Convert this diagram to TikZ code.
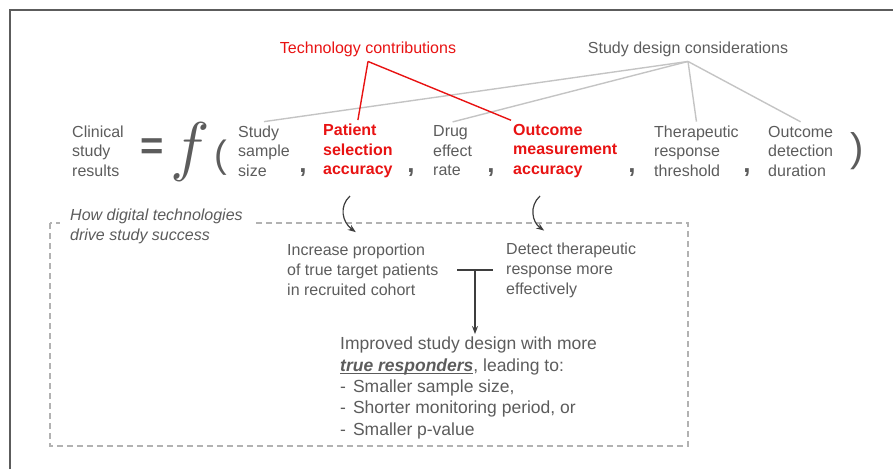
\documentclass[tikz,border=0pt]{standalone}
\usepackage{fontspec}
\setmainfont{Liberation Sans}
\usetikzlibrary{arrows.meta,positioning,calc}
\definecolor{txtgray}{RGB}{92,92,92}
\definecolor{techred}{RGB}{232,18,18}
\definecolor{spokegray}{RGB}{196,196,196}
\definecolor{boxgray}{RGB}{178,178,178}
\definecolor{arrgray}{RGB}{62,62,62}
\newcommand\respline[1]{\setbox0\hbox{#1}\rlap{\raisebox{-3pt}{\rule{\wd0}{1.6pt}}}\box0}

\begin{document}
\begin{tikzpicture}[x=1pt,y=-1pt,>={Stealth[length=8pt,width=6pt]},
  every node/.style={inner sep=0pt,text=txtgray,align=left},
  head/.style={font=\fontsize{16}{19}\selectfont,outer ysep=5pt},
  param/.style={anchor=west,outer ysep=4pt,font=\fontsize{16}{19.5}\selectfont},
  key/.style={param,text=techred,font=\fontsize{16}{19.5}\selectfont\bfseries},
  sepcomma/.style={anchor=base,font=\fontsize{26}{26}\selectfont\bfseries},
  big/.style={font=\fontsize{40}{40}\selectfont},
  mid/.style={anchor=west,outer ysep=12pt,font=\fontsize{16}{20}\selectfont},
  spoke/.style={spokegray,line width=1.4pt},
  techline/.style={techred,line width=1.4pt},
  arr/.style={->,arrgray,line width=1.2pt}]
\useasboundingbox (0,0) rectangle (893,469);
\draw[line width=2pt,txtgray] (10,469) -- (10,10) -- (893,10);

% headings
\node[head,text=techred] (tech) at (368,49) {Technology contributions};
\node[head] (design) at (688,49) {Study design considerations};

% the equation
\node[param] (clin) at (72,151) {Clinical\\study\\results};
\node[big,font=\fontsize{40}{40}\selectfont\bfseries] (eq) at (152,149) {=};
\node[scale=6.6] (fn) at (190,152) {$f$};
\node[big,font=\fontsize{38}{38}\selectfont] (lpar) at (221,158) {(};
\node[big] (rpar) at (857,151) {)};
\node[param] (size) at (238,151) {Study\\sample\\size};
\node[key] (psa) at (323,151) {Patient\\selection\\accuracy};
\node[param] (drug) at (433,151) {Drug\\effect\\rate};
\node[key] (meas) at (513,151) {Outcome\\measurement\\accuracy};
\node[param] (thr) at (654,151) {Therapeutic\\response\\threshold};
\node[param] (dur) at (768,151) {Outcome\\detection\\duration};
\foreach \cx/\nm in {303/c1,411/c2,491/c3,632/c4,747/c5}
  \node[sepcomma] (\nm) at (\cx,172) {,};

\foreach \p in {size,drug,thr,dur}
  \draw[spoke] (design.south) -- (\p.north);
\draw[techline] (tech.south) -- (psa.north);
\draw[techline] (tech.south) -- ([xshift=-2pt]meas.north west);

% lower panel
\draw[boxgray,line width=1.3pt,dash pattern=on 6pt off 4pt] (50,223) rectangle (688,446);
\node[anchor=west,fill=white,inner xsep=10pt,inner ysep=3pt,
  font=\fontsize{16}{20}\selectfont\itshape] (how) at (60,226)
  {How digital technologies\\drive study success};

\node[mid] (inc) at (287,270) {Increase proportion\\of true target patients\\in recruited cohort};
\node[mid] (det) at (506,270) {Detect therapeutic\\response more\\effectively};
\node[anchor=west,outer ysep=3pt,font=\fontsize{17.5}{21.4}\selectfont] (res) at (340,388)
  {Improved study design with more\\
   \respline{\textbf{\textit{true responders}}}, leading to:\\
   -\hspace{7pt}Smaller sample size,\\
   -\hspace{7pt}Shorter monitoring period, or\\
   -\hspace{7pt}Smaller p-value};

\coordinate (s1) at (350,196);
\coordinate (s2) at (540,196);
\draw[arr] (s1) .. controls (339,206) and (342,222) .. ([xshift=-7pt]inc.north);
\draw[arr] (s2) .. controls (529,206) and (532,222) .. ([xshift=-27pt]det.north);

\coordinate (tj) at (475,270);
\draw[arrgray,line width=1.3pt] ([xshift=-18pt]tj) -- ([xshift=18pt]tj);
\draw[arr] (tj) -- (tj |- res.north);
\end{tikzpicture}
\end{document}
